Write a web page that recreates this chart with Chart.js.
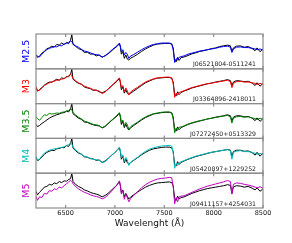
<!DOCTYPE html>
<html>
<head>
<meta charset="UTF-8">
<title>M dwarf spectra</title>
<script src="https://cdn.jsdelivr.net/npm/chart.js@4.4.1/dist/chart.umd.min.js"></script>
<style>
  html, body { margin: 0; padding: 0; background: #fff; }
  #wrap { width: 292px; height: 243px; }
</style>
</head>
<body>
<div id="wrap"><canvas id="spectra" width="292" height="243"></canvas></div>
<script>
// wavelength grid (Angstrom), shared by every spectrum
const wavelength = [6200,6215,6235,6260,6285,6310,6335,6360,6385,6410,
  6435,6460,6485,6510,6530,6550,6563,6575,6600,6630,
  6660,6690,6720,6750,6780,6810,6840,6870,6900,6930,
  6960,6990,7020,7045,7055,7065,7080,7095,7110,7125,
  7140,7160,7190,7230,7270,7310,7350,7390,7430,7470,
  7510,7550,7575,7590,7605,7620,7635,7650,7670,7700,
  7740,7780,7820,7860,7900,7940,7980,8020,8060,8100,
  8140,8170,8185,8200,8230,8270,8310,8350,8390,8420,
  8440,8470,8500];

const xTicks = [6500, 7000, 7500, 8000, 8500];
const spTypes = ['M2.5', 'M3', 'M3.5', 'M4', 'M5'];
const objNames = ['J06521804-0511241', 'J03364896-2418011', 'J07272450+0513329',
  'J05420897+1229252', 'J09411157+4254031'];
const colors = ['#0000ff', '#ff0000', '#008000', '#00bfbf', '#bf00bf'];

// standard spectra (coloured), normalised flux
const stdM25 = [0.41,0.36,0.34,0.42,0.49,0.55,0.59,0.61,0.64,0.63,
  0.67,0.66,0.71,0.73,0.76,0.80,0.78,0.72,0.66,0.62,
  0.56,0.51,0.49,0.46,0.42,0.41,0.39,0.34,0.37,0.44,
  0.52,0.59,0.66,0.74,0.66,0.49,0.55,0.40,0.47,0.42,
  0.30,0.37,0.41,0.48,0.55,0.61,0.66,0.70,0.72,0.74,
  0.74,0.74,0.72,0.55,0.18,0.29,0.25,0.33,0.35,0.37,
  0.42,0.45,0.48,0.51,0.53,0.55,0.57,0.59,0.62,0.64,
  0.65,0.62,0.47,0.57,0.62,0.63,0.61,0.61,0.59,0.57,
  0.55,0.57,0.54];
const stdM3 = [0.49,0.37,0.38,0.45,0.52,0.56,0.60,0.63,0.64,0.67,
  0.68,0.70,0.72,0.76,0.80,0.85,0.80,0.72,0.66,0.60,
  0.55,0.50,0.47,0.44,0.40,0.38,0.36,0.29,0.33,0.42,
  0.50,0.58,0.66,0.74,0.64,0.45,0.52,0.34,0.45,0.38,
  0.25,0.34,0.40,0.47,0.55,0.62,0.67,0.71,0.74,0.75,
  0.76,0.76,0.74,0.58,0.18,0.30,0.24,0.32,0.34,0.37,
  0.42,0.46,0.49,0.52,0.55,0.57,0.59,0.61,0.63,0.65,
  0.67,0.63,0.46,0.58,0.63,0.64,0.62,0.62,0.60,0.58,
  0.55,0.58,0.55];
const stdM35 = [0.62,0.57,0.52,0.60,0.68,0.66,0.72,0.70,0.71,0.73,
  0.72,0.75,0.76,0.79,0.80,0.86,0.82,0.74,0.68,0.61,
  0.56,0.50,0.47,0.44,0.40,0.39,0.37,0.31,0.35,0.43,
  0.51,0.58,0.66,0.74,0.64,0.46,0.53,0.36,0.46,0.40,
  0.26,0.34,0.40,0.47,0.55,0.62,0.67,0.71,0.73,0.75,
  0.76,0.76,0.74,0.56,0.16,0.30,0.23,0.32,0.33,0.36,
  0.41,0.45,0.48,0.51,0.53,0.56,0.58,0.60,0.62,0.64,
  0.66,0.62,0.44,0.58,0.62,0.63,0.61,0.62,0.59,0.57,
  0.54,0.58,0.55];
const stdM4 = [0.49,0.37,0.40,0.50,0.58,0.62,0.66,0.68,0.70,0.71,
  0.73,0.74,0.76,0.80,0.82,0.87,0.83,0.75,0.67,0.60,
  0.54,0.49,0.46,0.43,0.40,0.39,0.37,0.30,0.33,0.41,
  0.50,0.58,0.66,0.75,0.65,0.44,0.53,0.34,0.45,0.38,
  0.22,0.32,0.38,0.46,0.55,0.63,0.69,0.73,0.76,0.78,
  0.79,0.80,0.78,0.60,0.14,0.28,0.22,0.31,0.33,0.36,
  0.41,0.45,0.49,0.52,0.55,0.58,0.60,0.62,0.64,0.66,
  0.68,0.64,0.40,0.60,0.63,0.65,0.62,0.62,0.60,0.57,
  0.54,0.57,0.54];
const stdM5 = [0.34,0.22,0.32,0.30,0.42,0.40,0.50,0.48,0.55,0.53,
  0.60,0.58,0.64,0.70,0.74,0.80,0.76,0.70,0.62,0.55,
  0.50,0.45,0.42,0.38,0.35,0.33,0.31,0.26,0.30,0.38,
  0.47,0.56,0.66,0.78,0.66,0.40,0.50,0.25,0.40,0.30,
  0.18,0.28,0.36,0.47,0.58,0.67,0.74,0.79,0.83,0.85,
  0.86,0.88,0.87,0.62,0.12,0.30,0.18,0.32,0.34,0.35,
  0.40,0.45,0.50,0.55,0.59,0.63,0.66,0.69,0.72,0.75,
  0.79,0.76,0.40,0.68,0.72,0.71,0.68,0.66,0.63,0.60,
  0.58,0.61,0.57];

// observed objects (black)
const objM25 = [0.40,0.33,0.36,0.45,0.50,0.58,0.60,0.65,0.62,0.70,
  0.68,0.74,0.70,0.76,0.72,0.82,0.98,0.70,0.65,0.58,
  0.55,0.47,0.48,0.42,0.43,0.37,0.40,0.33,0.38,0.43,
  0.50,0.58,0.64,0.72,0.62,0.42,0.50,0.30,0.40,0.28,
  0.25,0.31,0.35,0.42,0.50,0.57,0.63,0.68,0.71,0.72,
  0.73,0.73,0.71,0.60,0.25,0.20,0.33,0.24,0.32,0.34,
  0.38,0.43,0.46,0.50,0.52,0.55,0.58,0.60,0.64,0.66,
  0.68,0.66,0.50,0.60,0.65,0.66,0.62,0.64,0.58,0.52,
  0.60,0.49,0.57];
const objM3 = [0.47,0.36,0.40,0.46,0.53,0.58,0.62,0.61,0.66,0.70,
  0.67,0.74,0.72,0.78,0.77,0.84,0.99,0.70,0.64,0.58,
  0.56,0.48,0.45,0.43,0.38,0.39,0.34,0.31,0.35,0.41,
  0.49,0.57,0.64,0.72,0.60,0.40,0.48,0.30,0.40,0.30,
  0.26,0.30,0.36,0.44,0.52,0.60,0.65,0.70,0.73,0.74,
  0.75,0.75,0.73,0.62,0.26,0.22,0.34,0.26,0.32,0.36,
  0.40,0.45,0.48,0.51,0.54,0.57,0.59,0.62,0.64,0.66,
  0.69,0.66,0.52,0.62,0.66,0.65,0.63,0.64,0.59,0.52,
  0.60,0.50,0.58];
const objM35 = [0.40,0.34,0.37,0.43,0.48,0.53,0.58,0.62,0.65,0.68,
  0.70,0.73,0.74,0.78,0.76,0.84,1.00,0.71,0.65,0.58,
  0.55,0.47,0.46,0.42,0.39,0.37,0.36,0.30,0.34,0.42,
  0.50,0.57,0.64,0.73,0.61,0.40,0.49,0.31,0.41,0.31,
  0.24,0.31,0.37,0.45,0.53,0.60,0.65,0.70,0.72,0.74,
  0.75,0.75,0.73,0.62,0.25,0.21,0.33,0.25,0.31,0.35,
  0.40,0.44,0.47,0.50,0.53,0.56,0.58,0.61,0.63,0.65,
  0.68,0.65,0.50,0.61,0.65,0.65,0.62,0.63,0.58,0.51,
  0.59,0.49,0.57];
const objM4 = [0.46,0.36,0.39,0.47,0.54,0.60,0.63,0.66,0.65,0.70,
  0.71,0.74,0.73,0.79,0.77,0.85,1.00,0.72,0.65,0.58,
  0.55,0.47,0.46,0.42,0.41,0.37,0.38,0.31,0.35,0.42,
  0.50,0.57,0.65,0.73,0.62,0.40,0.49,0.30,0.41,0.30,
  0.26,0.31,0.37,0.45,0.53,0.60,0.66,0.70,0.72,0.74,
  0.75,0.75,0.73,0.62,0.24,0.21,0.33,0.25,0.31,0.35,
  0.40,0.44,0.48,0.51,0.54,0.57,0.60,0.62,0.64,0.66,
  0.68,0.66,0.48,0.62,0.66,0.66,0.63,0.64,0.59,0.52,
  0.60,0.49,0.58];
const objM5 = [0.48,0.38,0.45,0.52,0.60,0.62,0.68,0.66,0.72,0.70,
  0.76,0.73,0.78,0.77,0.82,0.84,0.99,0.76,0.68,0.62,
  0.58,0.52,0.49,0.45,0.42,0.40,0.37,0.32,0.36,0.42,
  0.50,0.58,0.66,0.76,0.63,0.44,0.52,0.32,0.42,0.34,
  0.26,0.32,0.38,0.46,0.53,0.60,0.65,0.69,0.72,0.73,
  0.74,0.75,0.73,0.64,0.28,0.22,0.34,0.26,0.30,0.32,
  0.37,0.42,0.46,0.50,0.53,0.56,0.58,0.60,0.62,0.64,
  0.67,0.65,0.42,0.60,0.64,0.63,0.60,0.62,0.57,0.52,
  0.58,0.48,0.55];

const stdSpectra = [stdM25, stdM3, stdM35, stdM4, stdM5];
const objSpectra = [objM25, objM3, objM35, objM4, objM5];
const panelIds = ['p1', 'p2', 'p3', 'p4', 'p5'];

// datasets: coloured first so it is drawn above the black one
var datasets = [];
panelIds.forEach(function (id, i) {
  datasets.push({ data: stdSpectra[i], yAxisID: id, borderColor: colors[i],
    borderWidth: 1, pointRadius: 0, tension: 0 });
  datasets.push({ data: objSpectra[i], yAxisID: id, borderColor: '#000',
    borderWidth: 1, pointRadius: 0, tension: 0 });
});

var scales = {
  x: {
    type: 'linear', position: 'bottom', min: 6200, max: 8500,
    grid: { display: false, drawTicks: false }, border: { display: false },
    afterBuildTicks: function (s) { s.ticks = xTicks.map(function (v) { return { value: v }; }); },
    ticks: { color: '#111', font: { family: 'DejaVu Sans', size: 6.5 }, padding: 1.5,
      maxRotation: 0, autoSkip: false,
      callback: function (v) { return String(v); } },
    title: { display: true, text: 'Wavelenght (Å)', color: '#111',
      font: { family: 'DejaVu Sans', size: 9 }, padding: { top: 0, bottom: 13.6 } },
    afterFit: function (s) { s.height = 35; }
  }
};
// stacked left axes: the last one added ends up on top, so add bottom panel first
panelIds.slice().reverse().forEach(function (id) {
  const i = panelIds.indexOf(id);
  scales[id] = {
    type: 'linear', position: 'left', stack: 'panels', stackWeight: 1,
    min: 0, max: 1,
    grid: { display: false }, border: { display: false },
    ticks: { display: false },
    title: { display: true, text: spTypes[i], color: colors[i],
      font: { family: 'DejaVu Sans', size: 9.5 }, padding: { top: 20.8, bottom: 0 } },
    afterFit: function (s) { s.width = 36; }
  };
});

// frame of each panel, inner tick marks and object name
const panelFrames = {
  id: 'panelFrames',
  afterDatasetsDraw: function (chart) {
    const ctx = chart.ctx, a = chart.chartArea, x = chart.scales.x;
    ctx.save();
    panelIds.forEach(function (id, i) {
      const s = chart.scales[id];
      ctx.strokeStyle = '#8c8c8c';
      ctx.lineWidth = 1.2;
      ctx.strokeRect(a.left, s.top, a.right - a.left, s.bottom - s.top);
      ctx.beginPath();
      xTicks.forEach(function (v) {
        const px = x.getPixelForValue(v);
        ctx.moveTo(px, s.top); ctx.lineTo(px, s.top + 3);
        ctx.moveTo(px, s.bottom); ctx.lineTo(px, s.bottom - 3);
      });
      ctx.stroke();
      ctx.fillStyle = '#222';
      ctx.font = '6.2px "DejaVu Sans"';
      ctx.textAlign = 'right';
      ctx.textBaseline = 'alphabetic';
      ctx.fillText(objNames[i], a.right - 7, s.bottom - 2.5);
    });
    ctx.restore();
  }
};

new Chart(document.getElementById('spectra'), {
  type: 'line',
  data: { labels: wavelength, datasets: datasets },
  options: {
    responsive: false,
    animation: false,
    layout: { padding: { top: 34, right: 29, left: 0, bottom: 0 } },
    plugins: { legend: { display: false }, tooltip: { enabled: false } },
    scales: scales
  },
  plugins: [panelFrames]
});
</script>
</body>
</html>
